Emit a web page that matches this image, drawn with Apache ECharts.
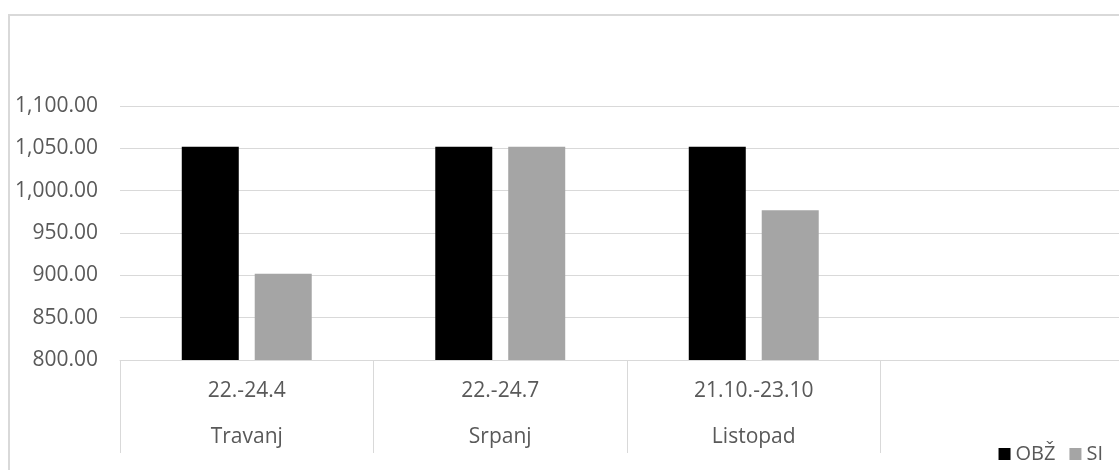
<!DOCTYPE html>
<html>
<head>
    <meta charset="UTF-8">
    <title>OBŽ / SI</title>
    <style type="text/css">
        html,body{margin:0;padding:0;background:#fff;overflow:hidden;}
        /* graf je u originalu odrezan s desne strane */
        #chart{width:1140px;height:470px;}
    </style>
</head>
<body>
<div id="chart"></div>
<script src="https://cdn.jsdelivr.net/npm/echarts@6/dist/echarts.min.js"></script>
<script type="text/javascript">
    // podaci
    var periods = ['22.-24.4', '22.-24.7', '21.10.-23.10', ''];
    var months = ['Travanj', 'Srpanj', 'Listopad', ''];
    var obz = [1052, 1052, 1052, null];
    var si = [902, 1052, 977, null];

    var font = 'Open Sans';
    var grey = '#595959';
    var lineColor = '#d9d9d9';

    var myChart = echarts.init(document.getElementById('chart'));

    var option = {
        animation: false,
        textStyle: {fontFamily: font},
        graphic: [{
            type: 'rect',
            shape: {x: 9, y: 15, width: 1200, height: 520},
            style: {fill: 'none', stroke: lineColor, lineWidth: 2},
            silent: true
        }],
        grid: {left: 120, top: 106, width: 1014, height: 254},
        legend: {
            data: ['OBŽ', 'SI'],
            right: 32,
            top: 439,
            icon: 'rect',
            itemWidth: 12,
            itemHeight: 12,
            itemGap: 14,
            textStyle: {color: grey, fontSize: 20, fontFamily: font}
        },
        xAxis: [{
            type: 'category',
            data: periods,
            axisLine: {lineStyle: {color: lineColor, width: 1}},
            axisTick: {show: true, interval: 0, length: 93, lineStyle: {color: lineColor}},
            axisLabel: {interval: 0, margin: 21, color: grey, fontSize: 21, fontFamily: font}
        }, {
            type: 'category',
            data: months,
            position: 'bottom',
            axisLine: {show: false},
            axisTick: {show: false},
            axisLabel: {interval: 0, margin: 67, color: grey, fontSize: 21, fontFamily: font}
        }],
        yAxis: {
            type: 'value',
            min: 800,
            max: 1100,
            interval: 50,
            axisLine: {show: false},
            axisTick: {show: false},
            splitLine: {lineStyle: {color: lineColor, width: 1}},
            axisLabel: {
                margin: 22,
                color: grey,
                fontSize: 21,
                fontFamily: font,
                formatter: function (v) {
                    return v.toLocaleString('en-US', {minimumFractionDigits: 2, maximumFractionDigits: 2});
                }
            }
        },
        series: [{
            name: 'OBŽ',
            type: 'bar',
            data: obz,
            barWidth: 57,
            barGap: '28%',
            itemStyle: {color: '#000000'}
        }, {
            name: 'SI',
            type: 'bar',
            data: si,
            barWidth: 57,
            itemStyle: {color: '#a5a5a5'}
        }]
    };

    myChart.setOption(option);
</script>
</body>
</html>
